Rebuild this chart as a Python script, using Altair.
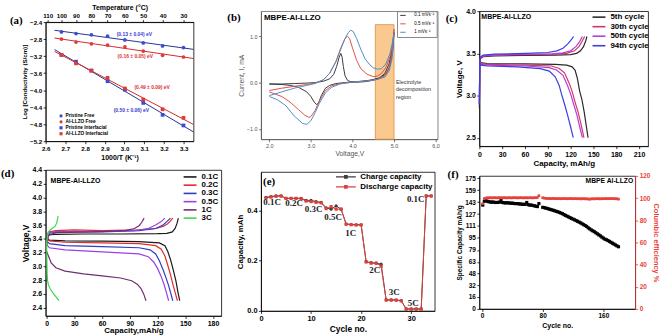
import altair as alt
import pandas as pd

SANS = "Liberation Sans"
SERIF = "Liberation Serif"

# ---------------- (a) Arrhenius ----------------
a_series = ["Pristine Free", "Al-LLZO Free", "Pristine Interfacial", "Al-LLZO Interfacial"]
a_inv_t = [2.680, 2.754, 2.832, 2.914, 3.002, 3.095, 3.193, 3.299]
a_pristine_free = [-2.63, -2.67, -2.70, -2.73, -2.82, -2.89, -2.96, -3.00]
a_alllzo_free = [-2.80, -2.87, -2.91, -2.94, -2.98, -3.08, -3.18, -3.22]
a_pristine_inter = [-3.17, -3.33, -3.54, -3.79, -3.99, -4.30, -4.58, -4.83]
a_alllzo_inter = [-3.17, -3.37, -3.54, -3.71, -3.96, -4.22, -4.45, -4.65]
a_temps_c = [110, 100, 90, 80, 70, 60, 50, 40, 30]
a_x_ticks = [2.6, 2.7, 2.8, 2.9, 3.0, 3.1, 3.2, 3.3]
a_y_ticks = [-5.2, -4.8, -4.4, -4.0, -3.6, -3.2, -2.8, -2.4]
a_ea_labels = ["(0.13 ± 0.04) eV", "(0.16 ± 0.05) eV", "(0.49 ± 0.09) eV", "(0.50 ± 0.06) eV"]
a_ea_x = [3.05, 3.055, 3.14, 3.035]
a_ea_y = [-2.67, -3.20, -3.92, -4.46]
a_ea_series = ["Pristine Free", "Al-LLZO Free", "Al-LLZO Interfacial", "Pristine Interfacial"]

# ---------------- (b) CV ----------------
b_scans = ["0.1 mVs⁻¹", "0.5 mVs⁻¹", "1 mVs⁻¹"]
b_v_01 = [2.0, 2.3, 2.6, 2.9, 3.1, 3.3, 3.45, 3.55, 3.62, 3.68, 3.72, 3.75, 3.78, 3.82, 3.88, 3.95, 4.1, 4.3, 4.5, 4.65, 4.78, 4.88, 4.95, 5.0,
          4.97, 4.9, 4.8, 4.65, 4.4, 4.1, 3.8, 3.6, 3.45, 3.35, 3.25, 3.18, 3.13, 3.08, 3.0, 2.9, 2.7, 2.5, 2.3, 2.0]
b_i_01 = [-0.03, -0.03, -0.02, -0.01, 0.0, 0.03, 0.08, 0.18, 0.35, 0.55, 0.63, 0.55, 0.35, 0.15, 0.05, 0.02, 0.01, 0.02, 0.05, 0.1, 0.2, 0.4, 0.7, 1.08,
          0.7, 0.35, 0.18, 0.1, 0.05, 0.02, 0.0, -0.02, -0.06, -0.12, -0.28, -0.45, -0.47, -0.42, -0.3, -0.2, -0.1, -0.06, -0.04, -0.03]
b_v_05 = [2.0, 2.3, 2.6, 2.9, 3.1, 3.3, 3.45, 3.6, 3.72, 3.82, 3.88, 3.93, 4.0, 4.1, 4.2, 4.35, 4.5, 4.6, 4.7, 4.8, 4.9, 4.97, 5.0,
          4.95, 4.88, 4.78, 4.6, 4.3, 4.0, 3.7, 3.5, 3.35, 3.2, 3.1, 3.0, 2.95, 2.85, 2.7, 2.5, 2.3, 2.0]
b_i_05 = [-0.17, -0.12, -0.08, -0.04, -0.01, 0.06, 0.2, 0.45, 0.75, 0.95, 1.0, 0.95, 0.75, 0.48, 0.3, 0.18, 0.13, 0.14, 0.2, 0.32, 0.55, 0.85, 1.15,
          0.6, 0.3, 0.15, 0.07, 0.03, 0.01, -0.02, -0.07, -0.17, -0.4, -0.6, -0.73, -0.75, -0.7, -0.58, -0.42, -0.3, -0.2]
b_v_1 = [2.0, 2.3, 2.6, 2.9, 3.1, 3.3, 3.45, 3.6, 3.72, 3.82, 3.9, 3.96, 4.02, 4.1, 4.2, 4.3, 4.4, 4.5, 4.6, 4.7, 4.8, 4.9, 4.97, 5.0,
         4.95, 4.88, 4.78, 4.6, 4.3, 4.0, 3.7, 3.5, 3.35, 3.2, 3.1, 3.0, 2.9, 2.8, 2.6, 2.4, 2.2, 2.0]
b_i_1 = [-0.28, -0.2, -0.12, -0.06, -0.02, 0.06, 0.2, 0.45, 0.72, 0.95, 1.08, 1.13, 1.1, 0.95, 0.72, 0.52, 0.4, 0.32, 0.29, 0.3, 0.4, 0.62, 0.9, 1.05,
         0.5, 0.25, 0.12, 0.07, 0.03, 0.01, -0.03, -0.1, -0.22, -0.45, -0.65, -0.82, -0.9, -0.88, -0.72, -0.5, -0.37, -0.3]
b_region_v = [4.55, 5.0]
b_region_top = 1.25
b_x_ticks = [2.0, 2.5, 3.0, 3.5, 4.0, 4.5, 5.0, 5.5, 6.0]
b_y_ticks = [-1.0, -0.5, 0.0, 0.5, 1.0, 1.5]
b_note = ["Electrolyte", "decomposition", "region"]
b_note_v = [5.045, 5.045, 5.045]
b_note_i = [0.013, -0.145, -0.30]

# ---------------- (c) cycling profiles ----------------
c_cycles = ["5th cycle", "30th cycle", "50th cycle", "94th cycle"]
c_5_chg_cap = [0, 0.5, 1.5, 5, 20, 60, 100, 120, 128, 133, 137, 140, 141.5]
c_5_chg_v = [2.85, 3.35, 3.44, 3.46, 3.47, 3.475, 3.48, 3.485, 3.5, 3.53, 3.58, 3.65, 3.7]
c_5_dis_cap = [0, 2, 10, 60, 100, 115, 122, 126, 129, 132, 135, 138, 141, 143]
c_5_dis_v = [3.42, 3.39, 3.38, 3.375, 3.37, 3.36, 3.34, 3.3, 3.2, 3.05, 2.95, 2.8, 2.62, 2.5]
c_30_chg_cap = [0, 0.5, 1.5, 5, 20, 60, 100, 115, 125, 131, 135, 138.5]
c_30_chg_v = [2.9, 3.38, 3.45, 3.47, 3.48, 3.485, 3.49, 3.5, 3.53, 3.58, 3.64, 3.7]
c_30_dis_cap = [0, 2, 10, 60, 95, 105, 112, 118, 122, 126, 130, 134, 137.5]
c_30_dis_v = [3.41, 3.38, 3.37, 3.36, 3.35, 3.32, 3.27, 3.15, 3.05, 2.92, 2.8, 2.65, 2.5]
c_50_chg_cap = [0, 0.5, 1.5, 5, 20, 60, 95, 110, 120, 127, 132, 135.5]
c_50_chg_v = [2.9, 3.38, 3.45, 3.47, 3.48, 3.49, 3.495, 3.505, 3.53, 3.58, 3.64, 3.7]
c_50_dis_cap = [0, 2, 10, 60, 92, 102, 110, 116, 120, 124, 128, 132, 135.5]
c_50_dis_v = [3.4, 3.37, 3.36, 3.35, 3.33, 3.3, 3.24, 3.12, 3.02, 2.9, 2.78, 2.63, 2.5]
c_94_chg_cap = [0, 0.5, 1.5, 5, 20, 60, 90, 102, 110, 116, 120, 124]
c_94_chg_v = [2.9, 3.38, 3.46, 3.48, 3.49, 3.5, 3.51, 3.53, 3.56, 3.61, 3.65, 3.7]
c_94_dis_cap = [0, 2, 10, 50, 80, 92, 100, 105, 108, 112, 116, 120, 123.5]
c_94_dis_v = [3.39, 3.36, 3.35, 3.34, 3.32, 3.29, 3.22, 3.12, 3.02, 2.9, 2.77, 2.63, 2.5]
c_x_ticks = [0, 30, 60, 90, 120, 150, 180, 210]
c_y_ticks = [2.5, 3.0, 3.5, 4.0]

# ---------------- (d) rate profiles ----------------
d_rates = ["0.1C", "0.2C", "0.3C", "0.5C", "1C", "3C"]
d_01_chg_cap = [0, 1, 3, 10, 40, 80, 120, 130, 136, 139, 141, 142.5]
d_01_chg_v = [3.3, 3.44, 3.46, 3.465, 3.47, 3.47, 3.475, 3.48, 3.5, 3.55, 3.62, 3.7]
d_01_dis_cap = [0, 3, 20, 60, 100, 122, 128, 131, 134, 137, 140, 142, 144]
d_01_dis_v = [3.42, 3.38, 3.37, 3.365, 3.36, 3.34, 3.3, 3.22, 3.1, 2.95, 2.78, 2.63, 2.5]
d_02_chg_cap = [0, 2, 10, 30, 60, 100, 118, 126, 131, 134, 136.5]
d_02_chg_v = [3.35, 3.5, 3.52, 3.53, 3.52, 3.53, 3.55, 3.58, 3.62, 3.66, 3.7]
d_02_dis_cap = [0, 3, 20, 60, 100, 118, 124, 128, 131, 134, 137, 139.5, 141.5]
d_02_dis_v = [3.4, 3.37, 3.35, 3.34, 3.33, 3.3, 3.25, 3.15, 3.02, 2.88, 2.72, 2.6, 2.5]
d_03_chg_cap = [0, 2, 10, 60, 100, 118, 126, 130, 134]
d_03_chg_v = [3.35, 3.48, 3.5, 3.5, 3.52, 3.55, 3.6, 3.65, 3.7]
d_03_dis_cap = [0, 3, 20, 60, 100, 112, 118, 122, 126, 129, 132, 134.5, 136.5]
d_03_dis_v = [3.37, 3.33, 3.3, 3.285, 3.27, 3.24, 3.18, 3.08, 2.95, 2.84, 2.72, 2.6, 2.5]
d_05_chg_cap = [0, 2, 10, 60, 95, 110, 118, 124, 128]
d_05_chg_v = [3.35, 3.49, 3.5, 3.51, 3.52, 3.55, 3.6, 3.65, 3.7]
d_05_dis_cap = [0, 3, 20, 60, 100, 110, 116, 120, 124, 127, 130, 132]
d_05_dis_v = [3.32, 3.27, 3.24, 3.21, 3.18, 3.14, 3.06, 2.97, 2.85, 2.74, 2.6, 2.5]
d_1_chg_cap = [0, 2, 10, 50, 85, 95, 100, 103, 105.5]
d_1_chg_v = [3.3, 3.45, 3.49, 3.5, 3.52, 3.55, 3.59, 3.64, 3.7]
d_1_dis_cap = [0, 2, 5, 10, 20, 40, 60, 80, 92, 98, 102, 105, 107.5]
d_1_dis_v = [3.22, 3.15, 3.05, 2.98, 2.93, 2.89, 2.86, 2.83, 2.79, 2.74, 2.68, 2.6, 2.5]
d_3_chg_cap = [0, 1, 3, 6, 9, 11, 12.5]
d_3_chg_v = [3.3, 3.45, 3.52, 3.55, 3.58, 3.63, 3.73]
d_3_dis_cap = [0, 0.3, 0.6, 1, 2, 4, 7, 10, 13.5]
d_3_dis_v = [3.35, 3.1, 2.9, 2.8, 2.73, 2.67, 2.61, 2.56, 2.5]
d_x_ticks = [0, 30, 60, 90, 120, 150, 180]
d_y_ticks = [2.4, 2.6, 2.8, 3.0, 3.2, 3.4, 3.6, 3.8, 4.0, 4.2, 4.4]

# ---------------- (e) rate capability ----------------
e_cycle = list(range(1, 35))
e_charge = [0.452, 0.455, 0.458, 0.458, 0.448, 0.448, 0.448, 0.448, 0.440, 0.440, 0.435, 0.432,
            0.410, 0.405, 0.418, 0.405, 0.346, 0.344, 0.343, 0.343, 0.196, 0.192, 0.190, 0.186,
            0.044, 0.044, 0.043, 0.041, 0.008, 0.008, 0.008, 0.008, 0.458, 0.458]
e_discharge = [0.450, 0.453, 0.456, 0.457, 0.448, 0.448, 0.448, 0.447, 0.437, 0.435, 0.432, 0.430,
               0.407, 0.415, 0.405, 0.405, 0.345, 0.343, 0.342, 0.342, 0.195, 0.190, 0.190, 0.178,
               0.043, 0.043, 0.043, 0.040, 0.007, 0.007, 0.007, 0.007, 0.457, 0.457]
e_series = ["Charge capacity", "Discharge capacity"]
e_rate_labels = ["0.1C", "0.2C", "0.3C", "0.5C", "1C", "2C", "3C", "5C", "0.1C"]
e_rate_x = [2.2, 6.6, 10.5, 14.4, 17.9, 22.7, 26.6, 30.4, 30.9]
e_rate_y = [0.434, 0.430, 0.404, 0.375, 0.312, 0.163, 0.075, 0.033, 0.445]
e_x_ticks = [0, 10, 20, 30]
e_y_ticks = [0.0, 0.1, 0.2, 0.3, 0.4, 0.5]

# ---------------- (f) long cycling ----------------
f_cycle = list(range(1, 77, 2)) + list(range(80, 181, 2))
f_capacity = [139, 144, 147, 144, 143.5, 143, 143, 143, 142.5, 142.5, 142.5, 143, 145.5, 142.5, 142, 142,
              142, 142, 141.5, 141.5, 141.5, 141, 141, 141, 140.5, 140.5, 140, 140, 140, 142.5, 139.5, 139,
              139, 138.5, 138, 137.5, 137, 141,
              136.0, 135.5, 135.0, 134.5, 133.8, 133.2, 132.6, 132.0, 131.3, 130.6, 130.0, 129.2, 128.3,
              127.5, 126.3, 125.2, 124.2, 123.2, 122.2, 121.2, 120.2, 119.3, 118.3, 117.3, 116.2, 115.2,
              114.0, 112.8, 111.6, 110.4, 108.6, 107.2, 105.8, 104.6, 103.4, 102.0, 100.6, 99.2, 97.8,
              96.2, 94.8, 93.4, 92.6, 91.6, 90.4, 89.2, 88.0, 86.8, 85.6, 84.4, 83.2]
f_efficiency = [95, 99.5, 100, 100.3, 100.2, 100.4, 100.2, 100.3, 100.4, 100.2, 100.3, 100.4, 100.2, 100.3,
                100.4, 100.3, 100.2, 100.4, 100.3, 100.2, 100.4, 100.3, 100.4, 100.2, 100.3, 100.4, 100.3,
                100.2, 100.4, 100.3, 100.2, 100.4, 100.3, 100.2, 100.4, 100.3, 100.5, 102.2,
                100.3, 100.0, 99.8, 99.6, 99.7, 99.5, 99.6, 99.7, 99.5, 99.6, 99.5, 99.6, 99.4, 99.5, 99.6,
                99.5, 99.4, 99.5, 99.6, 99.5, 99.4, 99.5, 99.5, 99.4, 99.5, 99.3, 99.4, 99.5, 99.3, 99.4,
                99.2, 99.0, 99.3, 99.4, 99.3, 99.4, 99.5, 99.4, 99.3, 99.5, 99.4, 99.5, 99.6, 99.4, 99.5,
                99.6, 99.5, 99.4, 99.5, 99.3, 99.1]
f_x_ticks = [0, 20, 40, 60, 80, 100, 120, 140, 160, 180, 200]
f_y_ticks = [0, 16, 32, 48, 63, 79, 95, 111, 127, 143, 159, 175]
f_y2_ticks = [0, 20, 40, 60, 80, 100, 120]

BLUE = "#3a4cd6"
RED = "#e2383a"
FRAME = alt.ViewBackground(stroke="black", strokeWidth=0.8)


def ax(lab, tit, bold=True, color="black", **kw):
    d = dict(labelFont=SANS, titleFont=SANS, labelFontSize=lab, titleFontSize=tit,
             labelFontWeight="bold" if bold else "normal", titleFontWeight="bold" if bold else "normal",
             labelColor=color, titleColor=color, domainColor=color, tickColor=color,
             grid=False, tickSize=2.5, tickWidth=0.8, domainWidth=0.8, labelPadding=1.5,
             titlePadding=2, labelFlush=False, labelOverlap=False)
    d.update(kw)
    return alt.Axis(**d)


def plabel(txt, px, py):
    return alt.Chart(pd.DataFrame({"t": [txt]})).mark_text(
        font=SERIF, fontSize=11, fontWeight="bold", align="left", baseline="middle", color="black"
    ).encode(x=alt.value(px), y=alt.value(py), text="t:N")


def note(txt, px, py, size, align="left", color="black"):
    return alt.Chart(pd.DataFrame({"t": [txt]})).mark_text(
        font=SANS, fontSize=size, fontWeight="bold", align=align, baseline="middle", color=color
    ).encode(x=alt.value(px), y=alt.value(py), text="t:N")


def spacer(h):
    return alt.Chart(pd.DataFrame({"s": [0]})).mark_point(size=1, opacity=0).encode(
        x=alt.X("s:Q", axis=None), y=alt.Y("s:Q", axis=None)
    ).properties(width=1, height=h, view=alt.ViewBackground(stroke=None))


def segs(rows, name, seg, caps, volts):
    for i, (c, v) in enumerate(zip(caps, volts)):
        rows.append({"cap": c, "v": v, "name": name, "seg": name + "-" + seg, "i": i})


# ================= panel (a) =================
dfa = pd.DataFrame({
    "x": a_inv_t * 4,
    "y": a_pristine_free + a_alllzo_free + a_pristine_inter + a_alllzo_inter,
    "series": [s for s in a_series for _ in a_inv_t],
})
xa = alt.Scale(domain=[2.6, 3.35], nice=False, zero=False)
ya = alt.Scale(domain=[-5.2, -2.4], nice=False, zero=False)
leg_a = alt.Legend(title=None, orient="none", legendX=13, legendY=92, labelFont=SANS, labelFontSize=4.8,
                   labelFontWeight="bold", symbolSize=10, rowPadding=0, labelOffset=2, padding=0)
pts_a = alt.Chart(dfa).mark_point(filled=True, size=14, opacity=1).encode(
    x=alt.X("x:Q", scale=xa, axis=ax(6.2, 7, values=a_x_ticks, format=".1f", title="1000/T (K⁻¹)")),
    y=alt.Y("y:Q", scale=ya, axis=ax(6.2, 6.2, values=a_y_ticks, format=".1f", title="Log [Conductivity (S/cm)]")),
    color=alt.Color("series:N", scale=alt.Scale(domain=a_series, range=[BLUE, RED, BLUE, RED]), legend=leg_a),
    shape=alt.Shape("series:N", scale=alt.Scale(domain=a_series, range=["circle", "circle", "square", "square"]),
                    legend=leg_a),
)
fit_a = alt.Chart(dfa).transform_regression("x", "y", groupby=["series"], extent=[2.645, 3.35]).mark_line(
    strokeWidth=1).encode(
    x=alt.X("x:Q", scale=xa, axis=ax(6.2, 7, orient="top", values=[1000 / (t + 273.15) for t in a_temps_c],
                                    labelExpr="format(1000 / datum.value - 273.15, '.0f')",
                                    title="Temperature (°C)")),
    y=alt.Y("y:Q", scale=ya, axis=None),
    color=alt.Color("series:N", scale=alt.Scale(domain=a_series, range=["#26348f", "#d42a2a", "#26348f", "#d42a2a"]),
                    legend=None),
)
ea_a = alt.Chart(pd.DataFrame({"x": a_ea_x, "y": a_ea_y, "t": a_ea_labels, "s": a_ea_series})).mark_text(
    font=SANS, fontSize=5, fontWeight="bold").encode(
    x=alt.X("x:Q", scale=xa, axis=None), y=alt.Y("y:Q", scale=ya, axis=None), text="t:N",
    color=alt.Color("s:N", scale=alt.Scale(domain=a_series, range=["#3a3ad0", "#d93030", "#3a3ad0", "#d93030"]),
                    legend=None),
)
chart_a = alt.layer(fit_a, pts_a, ea_a, plabel("(a)", -36, -1)).resolve_scale(
    color="independent", shape="independent").resolve_axis(x="independent", y="independent").properties(
    width=149, height=120, view=FRAME)

# ================= panel (b) =================
rows_b = []
for name, vs, cs in zip(b_scans, [b_v_01, b_v_05, b_v_1], [b_i_01, b_i_05, b_i_1]):
    for i, (v, c) in enumerate(zip(vs, cs)):
        rows_b.append({"v": v, "c": c, "scan": name, "i": i})
dfb = pd.DataFrame(rows_b)
xb = alt.Scale(domain=[1.8, 6.05], nice=False, zero=False)
yb = alt.Scale(domain=[-1.22, 1.54], nice=False, zero=False)
GRAY = "#555555"
rect_b = alt.Chart(pd.DataFrame({"x1": [b_region_v[0]], "x2": [b_region_v[1]], "y1": [-1.22], "y2": [b_region_top]})
                   ).mark_rect(fill="#f9c98f", stroke="#d9903e", strokeWidth=0.8).encode(
    x=alt.X("x1:Q", scale=xb, axis=ax(5.5, 6.8, bold=False, color=GRAY, values=b_x_ticks, format=".1f",
                                      title="Voltage,V")),
    x2="x2:Q",
    y=alt.Y("y1:Q", scale=yb, axis=ax(5.5, 6.8, bold=False, color=GRAY, values=b_y_ticks, format=".1f",
                                      title="Current, I, mA")),
    y2="y2:Q",
)
lines_b = alt.Chart(dfb).mark_line(strokeWidth=1).encode(
    x=alt.X("v:Q", scale=xb), y=alt.Y("c:Q", scale=yb), order="i:Q",
    color=alt.Color("scan:N", scale=alt.Scale(domain=b_scans, range=["#3a3a3a", "#d9534f", "#4f8fc6"]),
                    legend=alt.Legend(title=None, orient="none", legendX=137, legendY=0, strokeColor="#888",
                                      padding=2, labelFont=SANS, labelFontSize=4.5,
                                      symbolType="M-1,0L4.5,0", symbolSize=4, symbolStrokeWidth=1,
                                      rowPadding=2.5, labelOffset=11)),
)
note_b = alt.Chart(pd.DataFrame({"x": b_note_v, "y": b_note_i, "t": b_note})).mark_text(
    font=SANS, fontSize=5.5, align="left", color="#333").encode(
    x=alt.X("x:Q", scale=xb), y=alt.Y("y:Q", scale=yb), text="t:N")
chart_b = alt.layer(rect_b, lines_b, note_b, note("MBPE-Al-LLZO", 3, 7, 8), plabel("(b)", -34, 7)).properties(
    width=178, height=129, view=alt.ViewBackground(stroke="#666", strokeWidth=0.8))

# ================= panel (c) =================
rows_c = []
segs(rows_c, c_cycles[0], "c", c_5_chg_cap, c_5_chg_v)
segs(rows_c, c_cycles[0], "d", c_5_dis_cap, c_5_dis_v)
segs(rows_c, c_cycles[1], "c", c_30_chg_cap, c_30_chg_v)
segs(rows_c, c_cycles[1], "d", c_30_dis_cap, c_30_dis_v)
segs(rows_c, c_cycles[2], "c", c_50_chg_cap, c_50_chg_v)
segs(rows_c, c_cycles[2], "d", c_50_dis_cap, c_50_dis_v)
segs(rows_c, c_cycles[3], "c", c_94_chg_cap, c_94_chg_v)
segs(rows_c, c_cycles[3], "d", c_94_dis_cap, c_94_dis_v)
dfc = pd.DataFrame(rows_c)
lines_c = alt.Chart(dfc).mark_line(strokeWidth=1.2).encode(
    x=alt.X("cap:Q", scale=alt.Scale(domain=[0, 222], nice=False),
            axis=ax(7, 8, values=c_x_ticks, title="Capacity, mAh/g")),
    y=alt.Y("v:Q", scale=alt.Scale(domain=[2.4, 4.0], nice=False, zero=False),
            axis=ax(7, 8, values=c_y_ticks, format=".1f", title="Voltage, V")),
    detail="seg:N", order="i:Q",
    color=alt.Color("name:N", scale=alt.Scale(domain=c_cycles, range=["#2b2b2b", "#d6336c", "#b43fd8", "#3b3fe0"]),
                    legend=alt.Legend(title=None, orient="none", legendX=112, legendY=2, labelFont=SANS,
                                      labelFontSize=8, labelFontWeight="bold", symbolType="M-1,0L5.5,0",
                                      symbolSize=16, symbolStrokeWidth=1.6, rowPadding=1.6, labelOffset=12,
                                      padding=0)),
)
chart_c = alt.layer(lines_c, note("MBPE-Al-LLZO", 2, 6, 7), plabel("(c)", -34, 8)).properties(
    width=170, height=136, view=FRAME)

# ================= panel (d) =================
rows_d = []
segs(rows_d, d_rates[0], "c", d_01_chg_cap, d_01_chg_v)
segs(rows_d, d_rates[0], "d", d_01_dis_cap, d_01_dis_v)
segs(rows_d, d_rates[1], "c", d_02_chg_cap, d_02_chg_v)
segs(rows_d, d_rates[1], "d", d_02_dis_cap, d_02_dis_v)
segs(rows_d, d_rates[2], "c", d_03_chg_cap, d_03_chg_v)
segs(rows_d, d_rates[2], "d", d_03_dis_cap, d_03_dis_v)
segs(rows_d, d_rates[3], "c", d_05_chg_cap, d_05_chg_v)
segs(rows_d, d_rates[3], "d", d_05_dis_cap, d_05_dis_v)
segs(rows_d, d_rates[4], "c", d_1_chg_cap, d_1_chg_v)
segs(rows_d, d_rates[4], "d", d_1_dis_cap, d_1_dis_v)
segs(rows_d, d_rates[5], "c", d_3_chg_cap, d_3_chg_v)
segs(rows_d, d_rates[5], "d", d_3_dis_cap, d_3_dis_v)
dfd = pd.DataFrame(rows_d)
lines_d = alt.Chart(dfd).mark_line(strokeWidth=1.2).encode(
    x=alt.X("cap:Q", scale=alt.Scale(domain=[-1, 189], nice=False, zero=False),
            axis=ax(7, 8, values=d_x_ticks, title="Capacity,mAh/g", labelPadding=1, titlePadding=0)),
    y=alt.Y("v:Q", scale=alt.Scale(domain=[2.28, 4.4], nice=False, zero=False),
            axis=ax(7, 8.5, values=d_y_ticks, format=".1f", title="Voltage,V")),
    detail="seg:N", order="i:Q",
    color=alt.Color("name:N", scale=alt.Scale(domain=d_rates,
                                              range=["#1a1a1a", "#e02b2b", "#2f3cc4", "#9b3fe6", "#6e2f6e", "#3fd64a"]),
                    legend=alt.Legend(title=None, orient="none", legendX=137, legendY=3, labelFont=SANS,
                                      labelFontSize=8, labelFontWeight="bold", symbolType="M-1,0L5.5,0",
                                      symbolSize=16, symbolStrokeWidth=1.6, rowPadding=0.3, labelOffset=12,
                                      padding=0)),
)
chart_d = alt.layer(lines_d, note("MBPE-Al-LLZO", 5, 11, 7), plabel("(d)", -45, 4)).properties(
    width=177, height=147, view=FRAME)

# ================= panel (e) =================
dfe = pd.DataFrame({
    "cycle": e_cycle * 2,
    "cap": e_charge + e_discharge,
    "series": [e_series[0]] * len(e_cycle) + [e_series[1]] * len(e_cycle),
})
xe = alt.Scale(domain=[0, 34.7], nice=False)
ye = alt.Scale(domain=[0, 0.553], nice=False)
ecol = alt.Scale(domain=e_series, range=["#3c3c3c", "#e0403c"])
lines_e = alt.Chart(dfe).mark_line(strokeWidth=1).encode(
    x=alt.X("cycle:Q", scale=xe, axis=ax(7.5, 8.5, values=e_x_ticks, title="Cycle no.")),
    y=alt.Y("cap:Q", scale=ye, axis=ax(7.5, 8, values=e_y_ticks, format=".1f", title="Capacity, mAh")),
    color=alt.Color("series:N", scale=ecol,
                    legend=alt.Legend(title=None, orient="none", legendX=74, legendY=1, labelFont=SANS,
                                      labelFontSize=8, labelFontWeight="bold",
                                      symbolType="M-1,0L7,0M2.5,-0.5L3.5,-0.5L3.5,0.5L2.5,0.5Z",
                                      symbolSize=25, symbolStrokeWidth=1.2, rowPadding=2, labelOffset=18,
                                      padding=0)),
)
pts_e = alt.Chart(dfe).mark_point(filled=True, size=10, opacity=1).encode(
    x=alt.X("cycle:Q", scale=xe), y=alt.Y("cap:Q", scale=ye),
    color=alt.Color("series:N", scale=ecol, legend=None),
    shape=alt.Shape("series:N", scale=alt.Scale(domain=e_series, range=["circle", "square"]), legend=None),
)
rate_e = alt.Chart(pd.DataFrame({"x": e_rate_x, "y": e_rate_y, "t": e_rate_labels})).mark_text(
    font=SERIF, fontSize=9, fontWeight="bold", color="#222").encode(
    x=alt.X("x:Q", scale=xe), y=alt.Y("y:Q", scale=ye), text="t:N")
chart_e = alt.layer(lines_e, pts_e, rate_e, plabel("(e)", 2, 10)).resolve_scale(
    color="independent", shape="independent").properties(width=175, height=140, view=FRAME)

# ================= panel (f) =================
dff = pd.DataFrame({"cycle": f_cycle, "cap": f_capacity, "ce": f_efficiency})
xf = alt.Scale(domain=[-3.5, 202], nice=False, zero=False)
cap_f = alt.Chart(dff).mark_square(size=10, color="black", opacity=1).encode(
    x=alt.X("cycle:Q", scale=xf, axis=ax(6.5, 7, values=f_x_ticks, title="Cycle no.")),
    y=alt.Y("cap:Q", scale=alt.Scale(domain=[0, 178], nice=False),
            axis=ax(6.5, 6.5, values=f_y_ticks, title="Specific Capacity mAh/g")),
)
ce_f = alt.Chart(dff).mark_square(size=7, color="#e8413c", opacity=1).encode(
    x=alt.X("cycle:Q", scale=xf),
    y=alt.Y("ce:Q", scale=alt.Scale(domain=[0, 120], nice=False),
            axis=ax(6.5, 7.5, color="#e8413c", orient="right", values=f_y2_ticks, title="Columbic efficiency %")),
)
chart_f = alt.layer(cap_f, ce_f, note("MBPE Al-LLZO", 155, 5, 6.8, align="right"), plabel("(f)", -32, -1)
                    ).resolve_scale(y="independent").properties(width=157, height=134, view=FRAME)

# ================= layout =================
IND = dict(color="independent", shape="independent")
col_a = alt.vconcat(spacer(11), chart_a, spacer(29), chart_d, spacing=0, bounds="flush").resolve_scale(**IND)
col_b = alt.vconcat(chart_b, spacer(33), chart_e, spacing=0, bounds="flush").resolve_scale(**IND)
col_c = alt.vconcat(chart_c, spacer(30), chart_f, spacing=0, bounds="flush").resolve_scale(**IND)

chart = alt.hconcat(col_a, col_b, col_c, spacing=4).resolve_scale(**IND).properties(
    padding={"left": 0, "top": 1, "right": 0, "bottom": 0}, background="white"
).configure(font=SANS)

chart.save("out.html", embed_options={"renderer": "svg", "actions": False})
